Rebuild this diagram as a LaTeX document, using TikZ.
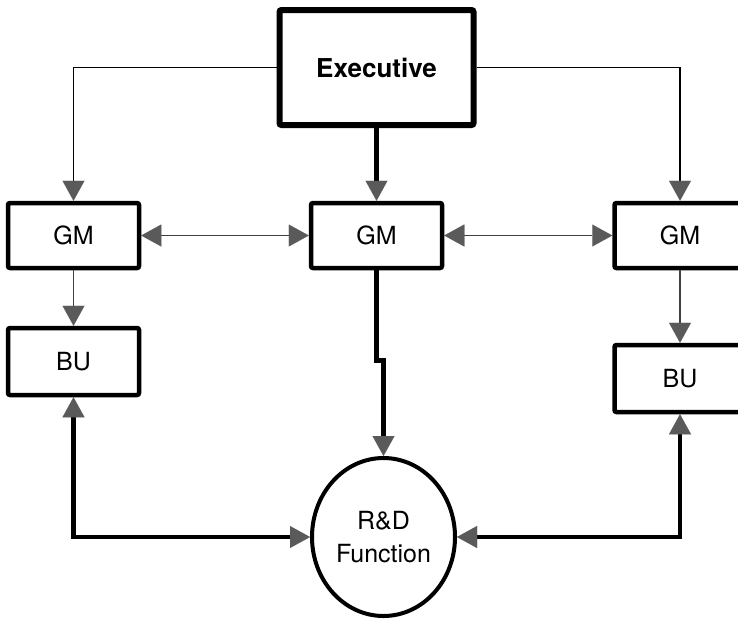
\documentclass[tikz,border=0pt]{standalone}
\usepackage{fontspec}
\setmainfont{TeX Gyre Heros}
\usetikzlibrary{arrows.meta,shapes.geometric}
\definecolor{tipgray}{HTML}{5A5A5A}
\definecolor{linegray}{HTML}{404040}
\begin{document}
\begin{tikzpicture}[x=1pt,y=-1pt,
  >={Triangle[length=20pt,width=22pt,line width=0.01pt,color=tipgray,fill=tipgray]},
  unit/.style={draw,line width=4.5pt,rounded corners=2pt,minimum width=131pt,
    minimum height=65pt,inner sep=0pt,font=\fontsize{25}{30}\selectfont},
  topbox/.style={draw,line width=6pt,rounded corners=2pt,minimum width=194pt,
    minimum height=115pt,inner sep=0pt,font=\bfseries\fontsize{26}{30}\selectfont},
  rdshape/.style={draw,ellipse,line width=4pt,minimum width=143pt,minimum height=158pt,
    inner sep=0pt,align=center,font=\fontsize{25}{33}\selectfont},
  thin/.style={line width=1.8pt},
  thinlink/.style={line width=1.8pt,draw=linegray},
  heavy/.style={line width=4.5pt}]
\useasboundingbox (0,0) rectangle (738,619);
\clip (0,0) rectangle (738,619);

% nodes
\node[topbox] (exec) at (376.5,67.5) {Executive};
\node[unit] (gml) at (73.5,235.5) {GM};
\node[unit] (gmc) at (376.5,235.5) {GM};
\node[unit] (gmr) at (680,235.5) {GM};
\node[unit,minimum height=67pt] (bul) at (73.5,361.5) {BU};
\node[unit,minimum height=67pt] (bur) at (680,378.5) {BU};
\node[rdshape] (rd) at (383.5,537) {R\&D\\Function};

% executive to general managers
\draw[thin,->] (exec.west) -| (gml.north);
\draw[thin,->] (exec.east) -| (gmr.north);
\draw[heavy,->] (exec.south) -- (gmc.north);

% links between general managers
\draw[thinlink,<->] (gml.east) -- (gmc.west);
\draw[thinlink,<->] (gmc.east) -- (gmr.west);

% general managers to business units
\draw[thinlink,->] (gml.south) -- (bul.north);
\draw[thinlink,->] (gmr.south) -- (bur.north);

% central manager to R&D
\draw[heavy,->] (gmc.south) -- ++(0,90) -| (rd.north);

% business units and R&D
\draw[heavy,<->] (bul.south) |- (rd.west);
\draw[heavy,<->] (bur.south) |- (rd.east);
\end{tikzpicture}
\end{document}
